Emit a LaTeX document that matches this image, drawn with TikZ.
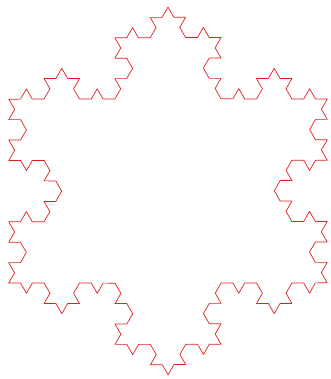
\documentclass[tikz,border=0pt]{standalone}
\usepackage{tikz}
\usetikzlibrary{decorations.fractals}
\definecolor{flake}{HTML}{E02020}

\begin{document}
\begin{tikzpicture}[x=1pt, y=1pt, line join=round]
    % Rahmen
    \useasboundingbox (0,0) rectangle (330,379);

    % Koch-Schneeflocke, Stufe 3
    \coordinate (top) at (168,372);
    \coordinate (right) at (327.3,96);
    \coordinate (left) at (8.7,96);
    \draw[flake, line width=0.7pt, decoration=Koch snowflake]
        decorate{decorate{decorate{ (top) -- (right) -- (left) -- cycle }}};
\end{tikzpicture}
\end{document}
